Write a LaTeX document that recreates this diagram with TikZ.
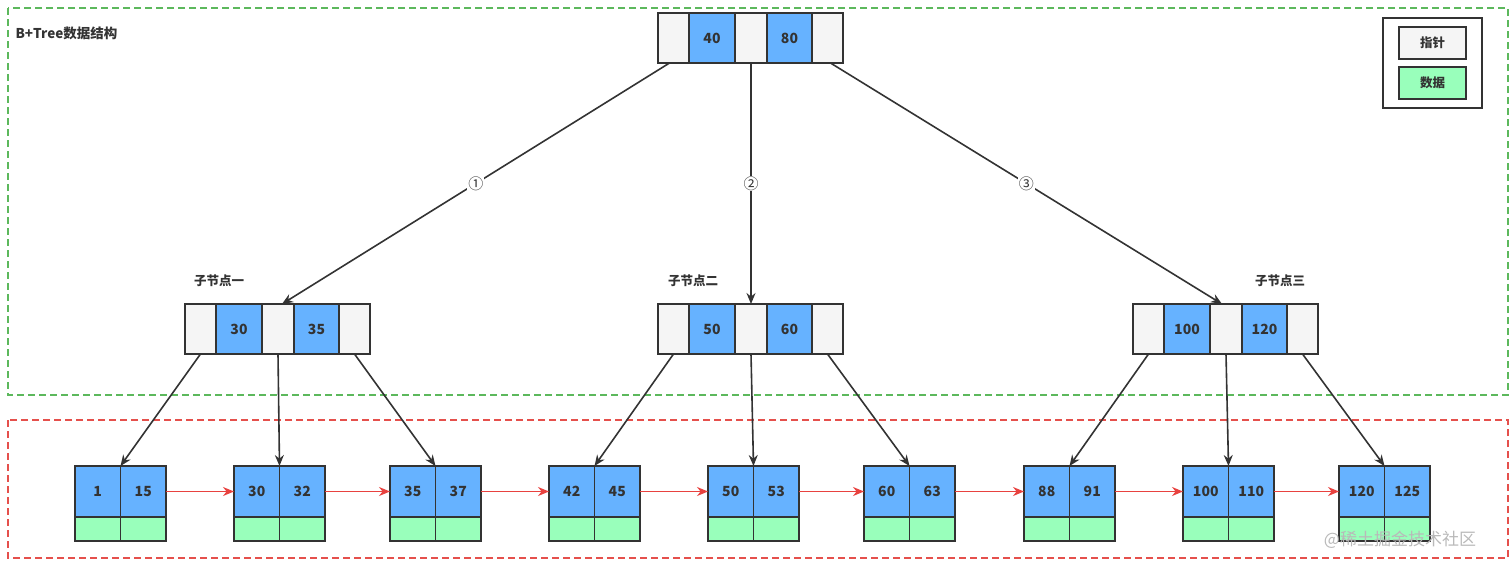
\documentclass[tikz,border=0pt]{standalone}
\usepackage{fontspec}
\setmainfont{Noto Sans CJK SC}
\usetikzlibrary{arrows.meta}
\definecolor{keyblue}{HTML}{66B2FF}
\definecolor{ptrgray}{HTML}{F5F5F5}
\definecolor{datagreen}{HTML}{99FFBB}
\definecolor{edge}{HTML}{333333}
\definecolor{boxgreen}{HTML}{5CB85C}
\definecolor{boxred}{HTML}{E5504C}
\definecolor{linkred}{HTML}{E8423F}
\tikzset{
  cellbase/.style={draw=edge, line width=1.8pt, inner sep=0pt, outer sep=0pt, anchor=north west,
    text=edge, font=\fontsize{14}{16}\selectfont\bfseries},
  ptr/.style={cellbase, fill=ptrgray, minimum height=50pt},
  key/.style={cellbase, fill=keyblue, minimum height=50pt},
  lkey/.style={cellbase, fill=keyblue, minimum width=45.5pt, minimum height=51pt},
  ldat/.style={cellbase, fill=datagreen, minimum width=45.5pt, minimum height=24pt},
  region/.style={line width=1.4pt, dash pattern=on 7pt off 4pt},
  tree/.style={draw=edge, line width=1.6pt, -{Stealth[length=11pt,width=9pt]}},
  link/.style={draw=linkred, line width=1.6pt, -{Stealth[length=11pt,width=9pt]}},
  num/.style={fill=white, inner sep=1pt, text=edge, font=\fontsize{15}{17}\selectfont},
  caption/.style={text=edge, font=\fontsize{12.5}{14}\selectfont\bfseries},
}
\newcommand\ptrnode[5]{%
  \node[ptr, minimum width=31pt] (#1p1) at (#2,#3) {};
  \node[key, minimum width=46pt] (#1k1) at (#1p1.north east) {#4};
  \node[ptr, minimum width=32pt] (#1p2) at (#1k1.north east) {};
  \node[key, minimum width=45pt] (#1k2) at (#1p2.north east) {#5};
  \node[ptr, minimum width=31pt] (#1p3) at (#1k2.north east) {};
}
\newcommand\leafnode[4]{%
  \node[lkey] (#1a) at (#2,466) {#3};
  \node[lkey] (#1b) at (#1a.north east) {#4};
  \node[ldat] (#1c) at (#1a.south west) {};
  \node[ldat] (#1d) at (#1b.south west) {};
}
\begin{document}
\begin{tikzpicture}[x=1pt,y=-1pt]
\useasboundingbox (0,0) rectangle (1512,568);
% regions
\draw[region, draw=boxgreen] (8,8) rectangle (1508,395);
\draw[region, draw=boxred] (8,420) rectangle (1508,558);
\node[caption, anchor=west, font=\fontsize{13.5}{15}\selectfont\bfseries] (title) at (12,33) {B+Tree数据结构};
% legend
\draw[draw=edge, line width=1.6pt, fill=white] (1383,18) rectangle (1482,108);
\node[cellbase, fill=ptrgray, minimum width=67pt, minimum height=32pt, font=\fontsize{12.5}{14}\selectfont\bfseries] (legptr) at (1399,27) {指针};
\node[cellbase, fill=datagreen, minimum width=67pt, minimum height=32pt, font=\fontsize{12.5}{14}\selectfont\bfseries] (legdat) at (1399,67) {数据};
% inner nodes
\ptrnode{r}{658}{13}{40}{80}
\ptrnode{a}{185}{304}{30}{35}
\ptrnode{b}{658}{304}{50}{60}
\ptrnode{c}{1133}{304}{100}{120}
\node[caption] (capa) at (219,281) {子节点一};
\node[caption] (capb) at (693,281) {子节点二};
\node[caption] (capc) at (1280,281) {子节点三};
% leaves
\leafnode{l1}{75}{1}{15}
\leafnode{l2}{234}{30}{32}
\leafnode{l3}{390}{35}{37}
\leafnode{l4}{549}{42}{45}
\leafnode{l5}{708}{50}{53}
\leafnode{l6}{864}{60}{63}
\leafnode{l7}{1024}{88}{91}
\leafnode{l8}{1183}{100}{110}
\leafnode{l9}{1339}{120}{125}
% root to children
\draw[tree] ([xshift=-4pt]rp1.south) -- node[num] {①} ([xshift=4pt]ap2.north);
\draw[tree] (rp2.south) -- node[num] {②} (bp2.north);
\draw[tree] ([xshift=3pt]rp3.south) -- node[num] {③} ([xshift=-4pt]cp2.north);
% children to leaves
\draw[tree] (ap1.south) -- (l1a.north east);
\draw[tree] (ap2.south) -- (l2a.north east);
\draw[tree] (ap3.south) -- (l3a.north east);
\draw[tree] (bp1.south) -- (l4a.north east);
\draw[tree] (bp2.south) -- (l5a.north east);
\draw[tree] (bp3.south) -- (l6a.north east);
\draw[tree] (cp1.south) -- (l7a.north east);
\draw[tree] (cp2.south) -- (l8a.north east);
\draw[tree] (cp3.south) -- (l9a.north east);
% leaf links
\draw[link] (l1b.east) -- (l2a.west);
\draw[link] (l2b.east) -- (l3a.west);
\draw[link] (l3b.east) -- (l4a.west);
\draw[link] (l4b.east) -- (l5a.west);
\draw[link] (l5b.east) -- (l6a.west);
\draw[link] (l6b.east) -- (l7a.west);
\draw[link] (l7b.east) -- (l8a.west);
\draw[link] (l8b.east) -- (l9a.west);
% watermark
\node[text=gray!55, font=\fontsize{17}{19}\selectfont] (wm) at (1400,540) {@稀土掘金技术社区};
\end{tikzpicture}
\end{document}
